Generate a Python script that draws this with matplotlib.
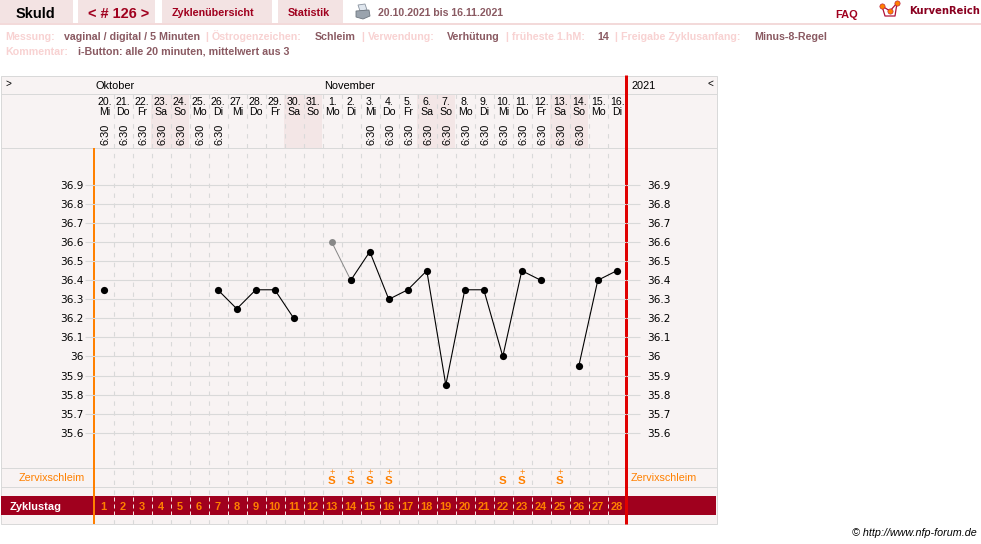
#cycle chart (NFP temperature curve)
import matplotlib
matplotlib.use("Agg")
import matplotlib.pyplot as plt
from matplotlib.patches import Rectangle, Polygon
import numpy as np

plt.rcParams['font.family'] = ['Liberation Sans', 'DejaVu Sans']

W, H = 981, 544
PX = 0.72  # points per pixel at dpi 100

cycle_days = list(range(1, 29))
temps = [36.35, np.nan, np.nan, np.nan, np.nan, np.nan, 36.35, 36.25, 36.35, 36.35, 36.2, np.nan,
         np.nan, 36.4, 36.55, 36.3, 36.35, 36.45, 35.85, 36.35, 36.35, 36.0, 36.45, 36.4,
         np.nan, 35.95, 36.4, 36.45]
excluded_days = [13, 14]
excluded_temps = [36.6, 36.4]

dates = ['20.', '21.', '22.', '23.', '24.', '25.', '26.', '27.', '28.', '29.', '30.', '31.', '1.', '2.',
         '3.', '4.', '5.', '6.', '7.', '8.', '9.', '10.', '11.', '12.', '13.', '14.', '15.', '16.']
weekdays = ['Mi', 'Do', 'Fr', 'Sa', 'So', 'Mo', 'Di', 'Mi', 'Do', 'Fr', 'Sa', 'So', 'Mo', 'Di',
            'Mi', 'Do', 'Fr', 'Sa', 'So', 'Mo', 'Di', 'Mi', 'Do', 'Fr', 'Sa', 'So', 'Mo', 'Di']
times = ['6:30'] * 7 + [''] * 7 + ['6:30'] * 12 + [''] * 2

mucus_plus = [13, 14, 15, 16, 23, 25]
mucus_plain = [22]

ytick_vals = [36.9, 36.8, 36.7, 36.6, 36.5, 36.4, 36.3, 36.2, 36.1, 36.0, 35.9, 35.8, 35.7, 35.6]
ytick_labels = ['36.9', '36.8', '36.7', '36.6', '36.5', '36.4', '36.3', '36.2', '36.1', '36', '35.9', '35.8', '35.7', '35.6']

info_row1 = [(5, 'Messung:', 0), (64, 'vaginal / digital / 5 Minuten', 1), (205, '|', 0), (212, 'Östrogenzeichen:', 0),
             (315, 'Schleim', 1), (361, '|', 0), (368, 'Verwendung:', 0), (447, 'Verhütung', 1), (505, '|', 0),
             (512, 'früheste 1.hM:', 0), (597, '14', 1), (614, '|', 0), (621, 'Freigabe Zyklusanfang:', 0),
             (754, 'Minus-8-Regel', 1)]
info_row2 = [(5, 'Kommentar:', 0), (78, 'i-Button: alle 20 minuten, mittelwert aus 3', 1)]

PANEL = '#f8f3f3'
LINE = '#d9d9d9'
TAB = '#f3e3e3'
WEEKEND = '#f3e6e6'
ORANGE = '#ff8000'
RED = '#e00000'
DARKRED = '#a0001e'
X0, X1 = 94.3, 626.3
COL = (X1 - X0) / 28

fig = plt.figure(figsize=(W / 100, H / 100), dpi=100, facecolor='white')

# page layer in pixel coordinates
bg = fig.add_axes([0, 0, 1, 1])
bg.set_xlim(0, W)
bg.set_ylim(H, 0)
bg.axis('off')

def txt(x, y, s, px=11, **kw):
	kw.setdefault('va', 'baseline')
	kw.setdefault('color', 'black')
	return bg.text(x, y, s, fontsize=px * PX, **kw)

# nav tabs
for x, w in [(0, 73), (78, 77), (162, 110), (278, 65)]:
	bg.add_patch(Rectangle((x, 0), w, 23, fc=TAB, ec='none'))
bg.add_patch(Rectangle((0, 23), W, 2, fc='#f3dada', ec='none'))
txt(35.5, 18, 'Skuld', 14.5, ha='center', fontweight='bold')
txt(118.5, 18, '< # 126 >', 14.5, ha='center', fontweight='bold', color=DARKRED)
txt(213, 16, 'Zyklenübersicht', 10.7, ha='center', fontweight='bold', color=DARKRED)
txt(308.5, 16, 'Statistik', 10.8, ha='center', fontweight='bold', color=DARKRED)
txt(378, 16.5, '20.10.2021 bis 16.11.2021', 10.5, fontweight='bold', color='#8a5a62')
txt(847, 18, 'FAQ', 11, ha='center', fontweight='bold', color=DARKRED)
txt(909, 14, 'KurvenReich', 10, family='DejaVu Sans', fontweight='bold', color='#8a0020')

# printer icon
bg.add_patch(Polygon([(358, 5), (365, 4), (367, 10), (360, 11)], fc='#dfe6ee', ec='#8a94a0', lw=0.6))
bg.add_patch(Polygon([(356, 11), (369, 10), (370, 16), (363, 19), (356, 17)], fc='#9aa3ad', ec='#6f7780', lw=0.6))

# logo
bg.plot([882, 885, 895, 897], [6, 16, 16, 3], color='#b0103a', lw=0.9)
bg.plot([882, 890, 897], [6, 11, 3], color='#b0103a', lw=0.9)
bg.plot([882, 890, 897], [6, 11, 3], ls='none', marker='o', ms=3.8, mfc=ORANGE, mec='#b0103a', mew=0.4)

# info lines
for row, y in [(info_row1, 40), (info_row2, 55)]:
	for x, s, is_val in row:
		txt(x, y, s, 10.6, fontweight='bold', color='#8a5a62' if is_val else '#f8d2d2')

# panel
bg.add_patch(Rectangle((0.5, 75.5), 716, 448.5, fc=PANEL, ec=LINE, lw=1 * PX))
for i, d in enumerate(cycle_days):
	if weekdays[i] in ('Sa', 'So'):
		bg.add_patch(Rectangle((X0 + i * COL, 93.5), COL, 54, fc=WEEKEND, ec='none'))
for y in [93.5, 147.5, 467.5, 486.5]:
	bg.plot([0.5, 716.5], [y, y], color=LINE, lw=1 * PX, snap=True)
bg.add_patch(Rectangle((1, 496), 715, 19, fc=DARKRED, ec='none', zorder=2))

# day column dashes
for i in range(1, 28):
	x = np.floor(X0 + i * COL) + 0.5
	bg.plot([x, x], [93.5, 524], color=LINE, lw=1.1 * PX, ls=(0, (4, 5)), zorder=1.5, snap=True)
	bg.plot([x, x], [497, 515], color='#f3e3e3', lw=1 * PX, ls=(0, (4, 3)), zorder=3, snap=True)

# header labels
txt(5, 87, '>', 10)
txt(707, 87, '<', 10)
txt(96, 89, 'Oktober', 11)
txt(324, 89, 'November', 11)
txt(631, 89, '2021', 11)
for i, d in enumerate(cycle_days):
	x = X0 + (i + 0.5) * COL
	txt(x + 0.5, 105, dates[i], 10.5, ha='center')
	txt(x + 0.5, 115, weekdays[i], 10.5, ha='center')
	if times[i]:
		txt(x + 1.5, 134.5, times[i], 11, ha='center', va='center', rotation=90)

# data axes, day numbers on x and temperature on y
ax = fig.add_axes([X0 / W, 1 - 467 / H, (X1 - X0) / W, (467 - 148) / H], facecolor='none')
ax.set_xlim(0.5, 28.5)
ax.set_ylim(36.9 - (467 - 185) / 190.5, 36.9 + (185 - 148) / 190.5)
for sp in ax.spines.values():
	sp.set_visible(False)
ax.set_xticks([])
ax.set_yticks(ytick_vals, ytick_labels, family='DejaVu Sans')
ax.grid(axis='y', color=LINE, lw=1.1 * PX)
ax.set_axisbelow(True)
ax.tick_params(axis='y', which='both', left=True, right=True, labelleft=True, labelright=True, length=9 * PX,
               width=1.1 * PX, color=LINE, labelsize=10.5 * PX, pad=2 * PX)
for t in ax.yaxis.get_major_ticks():
	t.tick2line.set_markersize(14 * PX)
	t.label2.set_x(1 + 10 / (X1 - X0))
ax.plot(excluded_days, excluded_temps, color='#888888', lw=1 * PX, marker='o', ms=5, mfc='#888888', mec='#888888', mew=0)
ax.plot(cycle_days, temps, color='black', lw=1.1 * PX, marker='o', ms=5.2, mfc='black', mec='black', mew=0)

# cervical mucus row
txt(85, 481, 'Zervixschleim', 10.7, ha='right', color=ORANGE)
txt(631, 481, 'Zervixschleim', 10.7, color=ORANGE)
for d in mucus_plus + mucus_plain:
	x = X0 + (d - 0.5) * COL
	txt(x, 483.5, 'S', 11.5, ha='center', fontweight='bold', color=ORANGE)
for d in mucus_plus:
	x = X0 + (d - 0.5) * COL
	txt(x, 474.5, '+', 9.5, ha='center', color=ORANGE)

# cycle day row
txt(10, 509.5, 'Zyklustag', 11, fontweight='bold', color='white', zorder=4)
for d in cycle_days:
	txt(X0 + (d - 0.5) * COL, 509.5, str(d), 11, ha='center', fontweight='bold', color=ORANGE, zorder=4)

# cycle borders
bg.plot([X0, X0], [148, 524], color=ORANGE, lw=2 * PX, zorder=5, solid_capstyle='butt')
bg.plot([X1, X1], [75, 524], color=RED, lw=3 * PX, zorder=5, solid_capstyle='butt')

txt(977, 536, '© http://www.nfp-forum.de', 10.7, ha='right', fontstyle='italic')

fig.savefig('out.png', dpi=100, facecolor='white')
